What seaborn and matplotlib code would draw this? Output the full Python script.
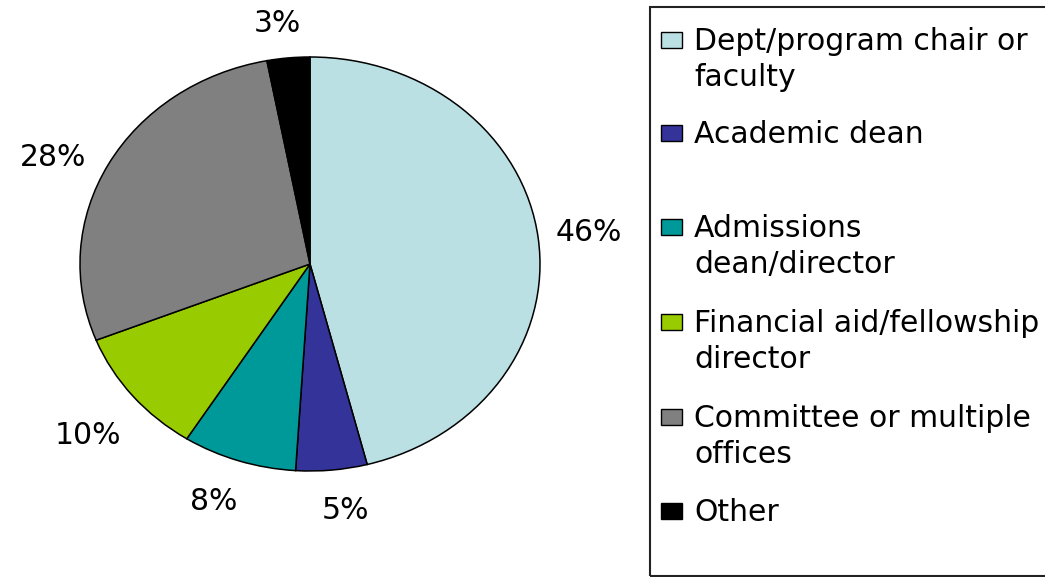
import matplotlib
matplotlib.use('Agg')
import numpy as np
import matplotlib.pyplot as plt
from matplotlib.patches import Rectangle
import seaborn as sns

# ── Data ────────────────────────────────────────────────────
categories = ['Dept/program chair or\nfaculty',
              'Academic dean',
              'Admissions\ndean/director',
              'Financial aid/fellowship\ndirector',
              'Committee or multiple\noffices',
              'Other']
shares = [46, 5, 8, 10, 28, 3]
colors = ['#BBE0E3', '#333399', '#009999', '#99CC00', '#808080', '#000000']
label_dist = [1.22, 1.20, 1.22, 1.27, 1.23, 1.17]
label_shift = [0, 2, -2, 1, 4, 1.5]   # degrees, Excel "best fit" nudges

# ── Style ───────────────────────────────────────────────────
sns.set_style('white')
plt.rcParams['font.family'] = ['DejaVu Sans']
FS = 21.5

W, H = 1045, 577
fig = plt.figure(figsize=(W / 100, H / 100), dpi=100)
fig.patch.set_facecolor('white')

# pie axes (stretched horizontally like the original)
ax = fig.add_axes([80 / W, 1 - 471 / H, 460 / W, 414 / H])
wedges, texts, autotexts = ax.pie(
    shares, colors=colors, startangle=90, counterclock=False,
    autopct='%1.0f%%', pctdistance=1.22,
    wedgeprops=dict(edgecolor='black', linewidth=1.1),
    textprops=dict(fontsize=FS, color='black'))
ax.set_aspect('auto')
ax.set_xlim(-1, 1)
ax.set_ylim(-1, 1)
ax.axis('off')

# push each % label to its own spot
for w, t, d, s in zip(wedges, autotexts, label_dist, label_shift):
    mid = np.deg2rad((w.theta1 + w.theta2) / 2 + s)
    t.set_position((d * np.cos(mid), d * np.sin(mid)))

# ── Legend box (drawn by hand to keep Excel-like layout) ────
fig.patches.append(Rectangle((650 / W, 1 - 576 / H), 420 / W, 569 / H,
                             transform=fig.transFigure, fill=False,
                             edgecolor='#222222', linewidth=1.5))

row_centers = [40, 133, 227, 322, 417, 511]
for label, color, yc in zip(categories, colors, row_centers):
    fig.patches.append(Rectangle((661 / W, 1 - (yc + 8) / H), 21 / W, 16 / H,
                                 transform=fig.transFigure, facecolor=color,
                                 edgecolor='black', linewidth=1.0))
    for i, line in enumerate(label.split('\n')):
        fig.text(694 / W, 1 - (yc + 10 + 36 * i) / H, line,
                 fontsize=FS, va='baseline', ha='left', color='black')

plt.savefig('out.png', dpi=100)
